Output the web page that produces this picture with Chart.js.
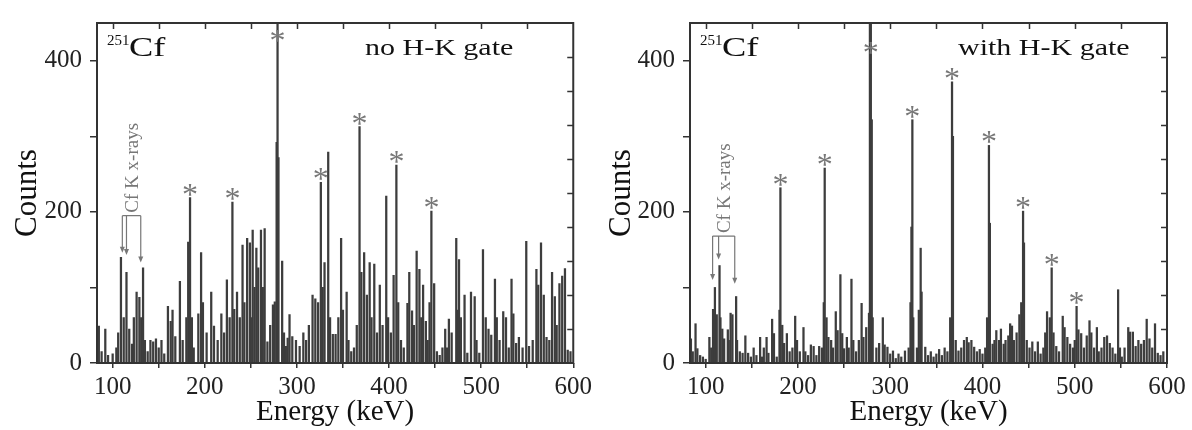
<!DOCTYPE html>
<html>
<head>
<meta charset="utf-8">
<script src="https://cdn.jsdelivr.net/npm/chart.js@4.4.0/dist/chart.umd.min.js"></script>
<style>
  body { margin: 0; background: #fff; width: 1192px; height: 430px; overflow: hidden; position: relative; }
  canvas { position: absolute; top: 0; }
  #left { left: 0; }
  #right { left: 596px; }
</style>
</head>
<body>
<canvas id="left" width="596" height="430"></canvas>
<canvas id="right" width="596" height="430"></canvas>
<script>
// 251Cf spectrum, no H-K gate (energy in keV, counts)
const energyNoGate = [
  85, 88, 92, 95, 100, 104, 106, 109, 112, 115,
  118, 121, 123, 126, 129, 131, 133, 135, 138, 141,
  144, 147, 150, 153, 156, 160, 163, 165, 168, 173,
  176, 180, 182, 184, 186, 188, 193, 196, 198, 202,
  207, 210, 214, 218, 221, 224, 227, 230, 232, 235,
  238, 241, 243, 246, 249, 250, 252, 254, 256, 258,
  261, 263, 265, 268, 271, 274, 276, 278, 279, 280,
  284, 286, 288, 290, 292, 295, 299, 303, 307, 310,
  313, 317, 320, 323, 326, 328, 330, 334, 336, 339,
  342, 345, 348, 350, 354, 356, 359, 362, 365, 368,
  370, 373, 376, 379, 381, 384, 387, 390, 393, 397,
  399, 402, 405, 408, 410, 413, 416, 420, 422, 425,
  427, 430, 433, 435, 437, 440, 442, 444, 446, 449,
  452, 455, 458, 461, 463, 465, 468, 473, 474, 476,
  478, 482, 485, 489, 493, 495, 498, 502, 505, 508,
  511, 515, 517, 520, 524, 527, 530, 533, 535, 538,
  541, 545, 549, 552, 556, 560, 562, 565, 568, 571,
  574, 577, 580, 582, 585, 588, 591, 594, 597
];
const countsNoGate = [
  49, 15, 45, 10, 12, 20, 40, 140, 60, 120,
  45, 25, 60, 94, 87, 60, 126, 30, 15, 30,
  28, 32, 20, 30, 12, 75, 55, 70, 35, 108,
  30, 60, 160, 219, 60, 20, 65, 146, 80, 40,
  94, 49, 30, 65, 40, 110, 60, 213, 71, 94,
  60, 156, 80, 165, 159, 60, 176, 100, 152, 126,
  176, 100, 178, 28, 50, 77, 81, 292, 460, 272,
  135, 40, 22, 33, 64, 35, 30, 22, 40, 30,
  50, 90, 85, 80, 239, 100, 133, 279, 60, 38,
  38, 60, 165, 70, 94, 30, 15, 20, 50, 313,
  120, 146, 90, 133, 60, 131, 40, 103, 50, 221,
  60, 40, 116, 262, 80, 30, 20, 79, 120, 69,
  50, 148, 124, 60, 103, 55, 30, 80, 201, 105,
  15, 10, 20, 45, 20, 58, 40, 165, 70, 137,
  60, 90, 13, 94, 88, 30, 13, 150, 60, 45,
  37, 111, 60, 30, 68, 60, 20, 111, 65, 26,
  34, 20, 161, 22, 30, 124, 103, 159, 90, 34,
  30, 120, 88, 50, 105, 115, 125, 17, 15
];

// 251Cf spectrum with H-K gate
const energyGate = [
  84, 86, 89, 91, 94, 97, 100, 104, 106, 108,
  110, 112, 115, 116, 118, 120, 124, 125, 127, 129,
  133, 134, 137, 140, 143, 146, 149, 152, 155, 159,
  161, 163, 166, 168, 172, 174, 177, 180, 181, 183,
  185, 188, 191, 194, 197, 199, 202, 206, 208, 211,
  214, 217, 220, 223, 226, 228, 229, 231, 233, 236,
  238, 241, 243, 246, 248, 250, 253, 255, 258, 260,
  263, 266, 269, 271, 274, 277, 278, 279, 280, 281,
  285, 288, 292, 294, 297, 300, 303, 306, 309, 312,
  316, 320, 322, 323, 324, 325, 329, 331, 333, 334,
  338, 341, 344, 347, 350, 353, 356, 359, 362, 365,
  367, 368, 371, 374, 377, 380, 383, 385, 388, 391,
  394, 397, 400, 403, 405, 407, 408, 411, 413, 415,
  418, 420, 423, 425, 428, 430, 432, 434, 437, 440,
  442, 444, 445, 448, 451, 454, 457, 460, 463, 466,
  468, 470, 473, 475, 477, 480, 483, 487, 489, 492,
  495, 498, 500, 502, 504, 507, 510, 513, 516, 518,
  521, 524, 526, 529, 532, 535, 538, 541, 544, 547,
  549, 551, 554, 558, 560, 563, 566, 569, 572, 575,
  578, 581, 584, 587, 590, 593, 596
];
const countsGate = [
  32, 15, 52, 19, 10, 8, 5, 34, 20, 71,
  100, 64, 129, 60, 45, 32, 44, 30, 66, 64,
  88, 30, 15, 13, 36, 13, 8, 20, 10, 34,
  8, 20, 34, 13, 58, 39, 8, 70, 232, 50,
  26, 39, 15, 20, 62, 30, 15, 47, 15, 10,
  24, 22, 10, 22, 20, 80, 258, 60, 34, 30,
  20, 68, 43, 117, 39, 19, 34, 20, 111, 30,
  15, 30, 79, 34, 47, 66, 460, 460, 322, 60,
  20, 26, 60, 24, 21, 12, 16, 6, 12, 8,
  16, 20, 80, 180, 322, 60, 20, 70, 152, 94,
  21, 10, 15, 8, 12, 18, 10, 20, 15, 60,
  372, 300, 30, 16, 20, 30, 34, 27, 30, 21,
  15, 18, 12, 20, 60, 288, 185, 25, 30, 43,
  30, 45, 25, 30, 36, 52, 49, 30, 40, 64,
  80, 201, 159, 30, 20, 28, 15, 28, 12, 20,
  40, 68, 60, 126, 40, 22, 15, 62, 47, 34,
  25, 20, 30, 75, 44, 39, 20, 36, 56, 40,
  20, 47, 15, 20, 34, 36, 26, 20, 12, 97,
  20, 8, 20, 47, 41, 41, 22, 30, 25, 30,
  58, 32, 20, 52, 13, 10, 15
];

// peaks marked with an asterisk
const starsNoGate = [184, 230, 279, 326, 368, 408, 446];
const starsGate = [181, 229, 279, 324, 367, 407, 444, 475, 502];

// Cf K x-ray lines (keV)
const xrayNoGate = [110.5, 115, 130.5];
const xrayGate = [107.5, 114, 131.5];

const serif = '"Liberation Serif", "Times New Roman", serif';

// frame, inner ticks and the text annotations
const decorations = {
  id: 'decorations',
  afterDatasetsDraw(chart, args, opts) {
    const { ctx, chartArea: a, scales: { x, y } } = chart;
    const data = chart.data.datasets[0].data;
    ctx.save();

    // inner ticks on top and right
    ctx.strokeStyle = '#333';
    ctx.lineWidth = 1.5;
    ctx.beginPath();
    for (let e = 100; e < 600; e += 50) {
      const px = Math.round(x.getPixelForValue(e)) + 0.5;
      ctx.moveTo(px, a.top);
      ctx.lineTo(px, a.top + 6);
    }
    for (let v = 45; v < 450; v += 45) {
      const py = Math.round(y.getPixelForValue(v)) + 0.5;
      ctx.moveTo(a.right, py);
      ctx.lineTo(a.right - 6, py);
    }
    ctx.stroke();

    // frame
    ctx.lineWidth = 2;
    ctx.strokeRect(a.left, a.top, a.right - a.left, a.bottom - a.top);

    // asterisks above the peaks
    ctx.fillStyle = '#777';
    ctx.font = '32px ' + serif;
    ctx.textAlign = 'center';
    ctx.textBaseline = 'alphabetic';
    opts.stars.forEach(e => {
      let h = 0;
      data.forEach(p => { if (Math.abs(p.x - e) <= 1.5) h = Math.max(h, p.y); });
      const cy = Math.max(y.getPixelForValue(h) - 10, a.top + opts.starTop);
      ctx.fillText('*', x.getPixelForValue(e), cy + 17);
    });

    // Cf K x-rays bracket
    const xr = opts.xray;
    const xs = xr.lines.map(e => x.getPixelForValue(e));
    const yTop = y.getPixelForValue(xr.top);
    ctx.strokeStyle = '#777';
    ctx.fillStyle = '#777';
    ctx.lineWidth = 1.2;
    ctx.beginPath();
    ctx.moveTo(xs[0], yTop);
    ctx.lineTo(xs[2], yTop);
    xs.forEach((px, i) => {
      ctx.moveTo(px, yTop);
      ctx.lineTo(px, y.getPixelForValue(xr.tips[i]) - 4);
    });
    ctx.stroke();
    xs.forEach((px, i) => {
      const ty = y.getPixelForValue(xr.tips[i]);
      ctx.beginPath();
      ctx.moveTo(px - 2.5, ty - 6);
      ctx.lineTo(px + 2.5, ty - 6);
      ctx.lineTo(px, ty);
      ctx.closePath();
      ctx.fill();
    });
    ctx.save();
    ctx.translate((xs[0] + xs[2]) / 2 + 1, yTop - 3);
    ctx.rotate(-Math.PI / 2);
    ctx.font = '19px ' + serif;
    ctx.textAlign = 'left';
    ctx.textBaseline = 'middle';
    ctx.fillText('Cf K x-rays', 0, 0);
    ctx.restore();

    // isotope and gate labels (stretched like the original figure)
    ctx.fillStyle = '#111';
    ctx.textAlign = 'left';
    ctx.textBaseline = 'alphabetic';
    ctx.font = '15px ' + serif;
    ctx.fillText('251', a.left + 10, a.top + 22);
    ctx.save();
    ctx.translate(a.left + 32, a.top + 33);
    ctx.scale(1.3, 1);
    ctx.font = '28px ' + serif;
    ctx.fillText('Cf', 0, 0);
    ctx.restore();
    ctx.save();
    ctx.translate(a.left + 268, a.top + 32);
    ctx.scale(1.25, 1);
    ctx.font = '24px ' + serif;
    ctx.fillText(opts.gate, 0, 0);
    ctx.restore();

    ctx.restore();
  }
};

function makeChart(id, energies, counts, stars, xray, gate, axisWidth, padRight, titlePad, starTop) {
  return new Chart(document.getElementById(id), {
    type: 'bar',
    data: {
      datasets: [{
        data: energies.map((e, i) => ({ x: e, y: counts[i] })),
        backgroundColor: '#3d3d3d',
        borderWidth: 0,
        barThickness: 1.6
      }]
    },
    options: {
      responsive: false,
      animation: false,
      layout: { padding: { top: 14, right: padRight, left: 0, bottom: 0 } },
      plugins: {
        legend: { display: false },
        tooltip: { enabled: false },
        decorations: { stars: stars, xray: xray, gate: gate, starTop: starTop }
      },
      scales: {
        x: {
          type: 'linear',
          min: 83,
          max: 600,
          offset: false,
          afterFit: s => { s.height = 67; },
          grid: { offset: false, drawOnChartArea: false, tickLength: 5, color: '#333', lineWidth: 1.5 },
          border: { display: false },
          ticks: {
            stepSize: 50,
            includeBounds: false,
            autoSkip: false,
            maxRotation: 0,
            padding: 4,
            color: '#222',
            font: { family: serif, size: 25 },
            callback: v => (v % 100 === 0 ? v : '')
          },
          title: {
            display: true,
            text: 'Energy (keV)',
            color: '#111',
            font: { family: serif, size: 29 },
            padding: { top: 0, bottom: 0 }
          }
        },
        y: {
          min: 0,
          max: 450,
          afterFit: s => { s.width = axisWidth; },
          grid: { drawOnChartArea: false, tickLength: 7, color: '#333', lineWidth: 1.5 },
          border: { display: false },
          ticks: {
            stepSize: 100,
            includeBounds: false,
            padding: 8,
            color: '#222',
            font: { family: serif, size: 25 },
            callback: v => (v % 200 === 0 ? v : '')
          },
          title: {
            display: true,
            text: 'Counts',
            color: '#111',
            font: { family: serif, size: 31 },
            padding: { top: titlePad, bottom: 0 }
          }
        }
      }
    },
    plugins: [decorations]
  });
}

makeChart('left', energyNoGate, countsNoGate, starsNoGate,
  { lines: xrayNoGate, top: 195, tips: [146, 143, 133] }, 'no H-K gate', 97, 22, 9, 11);
makeChart('right', energyGate, countsGate, starsGate,
  { lines: xrayGate, top: 168, tips: [110, 137, 105] }, 'with H-K gate', 94, 25, 7, 23);
</script>
</body>
</html>
